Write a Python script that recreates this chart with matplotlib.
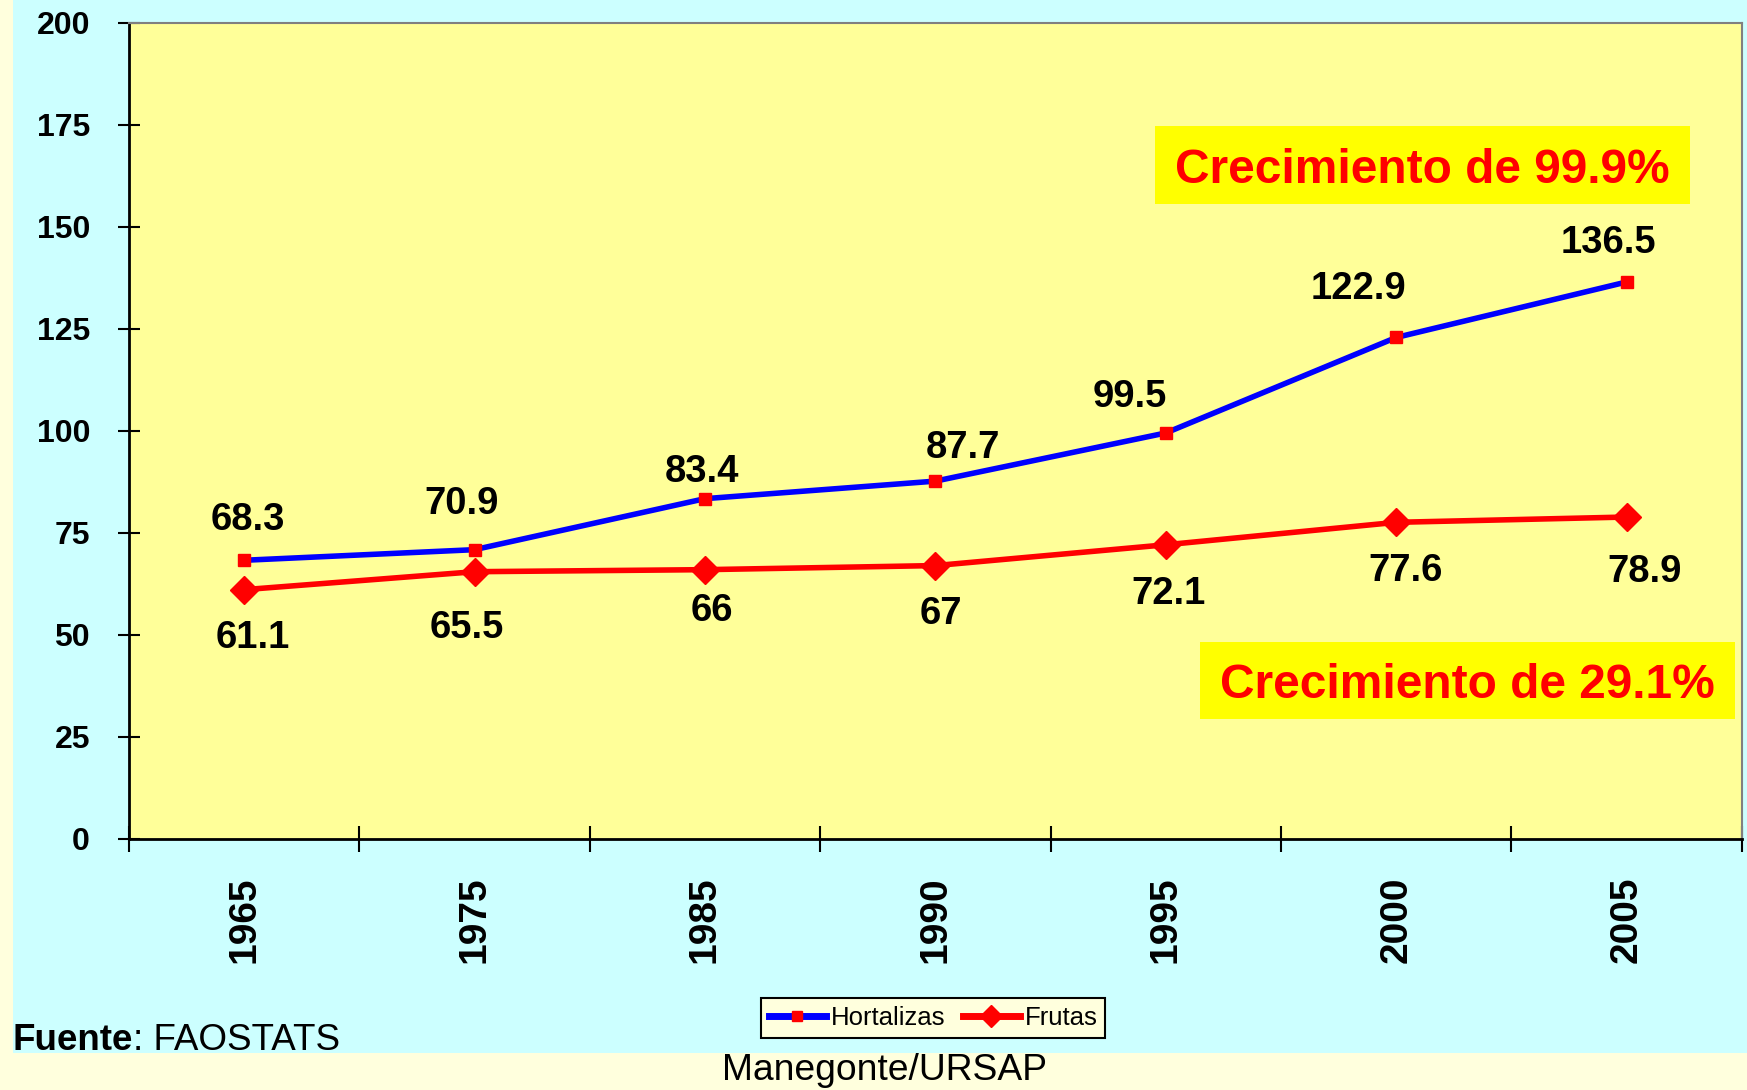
import numpy as np
import matplotlib.pyplot as plt
from matplotlib.patches import Rectangle

plt.rcParams['font.family'] = ['Liberation Sans', 'DejaVu Sans']

# datos (FAOSTATS)
anios = ['1965', '1975', '1985', '1990', '1995', '2000', '2005']
hortalizas = [68.3, 70.9, 83.4, 87.7, 99.5, 122.9, 136.5]
frutas = [61.1, 65.5, 66, 67, 72.1, 77.6, 78.9]
etiq_hort = ['68.3', '70.9', '83.4', '87.7', '99.5', '122.9', '136.5']
etiq_frut = ['61.1', '65.5', '66', '67', '72.1', '77.6', '78.9']

# desplazamiento de las etiquetas (pixeles)
off_hort = [(4, 40), (-13, 46), (-3, 27), (28, 33), (-36, 36), (-38, 48), (-18, 39)]
off_frut = [(9, -48), (-8, -56), (7, -41), (6, -48), (3, -49), (9, -49), (18, -55)]

fig = plt.figure(figsize=(17.47, 10.90), dpi=100)
fig.patch.set_facecolor('#FFFFDD')
fig.patches.append(Rectangle((0.0074, 0.034), 0.9926, 0.966, transform=fig.transFigure,
                             facecolor='#CCFFFF', edgecolor='none', zorder=-10))

ax = fig.add_axes([0.0738, 0.2303, 0.9232, 0.7487])
ax.set_facecolor('#FFFF99')

x = np.arange(len(anios))
ax.plot(x, hortalizas, color='#0000FF', lw=4, marker='s', ms=9,
        mfc='#FF0000', mec='#FF0000', label='Hortalizas', zorder=3)
ax.plot(x, frutas, color='#FF0000', lw=4, marker='D', ms=14,
        mfc='#FF0000', mec='#FF0000', label='Frutas', zorder=3)

for i in range(len(anios)):
    ax.annotate(etiq_hort[i], (x[i], hortalizas[i]), xytext=off_hort[i],
                textcoords='offset pixels', ha='center', va='center',
                fontsize=27.5, fontweight='bold')
    ax.annotate(etiq_frut[i], (x[i], frutas[i]), xytext=off_frut[i],
                textcoords='offset pixels', ha='center', va='center',
                fontsize=27.5, fontweight='bold')

ax.set_xlim(-0.5, len(anios) - 0.5)
ax.set_ylim(0, 200)
ax.set_yticks(np.arange(0, 201, 25))
ax.set_xticks(np.arange(len(anios) + 1) - 0.5)
ax.set_xticklabels([])
ax.set_xticks(x, minor=True)
ax.set_xticklabels(anios, minor=True, rotation=90, fontsize=28, fontweight='bold')
ax.tick_params(axis='x', which='major', direction='inout', length=19, width=1.5)
ax.tick_params(axis='x', which='minor', length=0, pad=27)
ax.tick_params(axis='y', direction='inout', length=16, width=1.5, pad=20)
for lab in ax.get_yticklabels():
    lab.set_fontsize(23)
    lab.set_fontweight('bold')

for s in ['left', 'bottom']:
    ax.spines[s].set_color('black')
    ax.spines[s].set_linewidth(2)
for s in ['top', 'right']:
    ax.spines[s].set_color('#808080')
    ax.spines[s].set_linewidth(1.5)

# cuadros de crecimiento
fig.patches.append(Rectangle((0.6611, 0.8128), 0.3062, 0.0716, transform=fig.transFigure,
                             facecolor='#FFFF00', edgecolor='none', zorder=2))
fig.text(0.814, 0.8436, 'Crecimiento de 99.9%', color='#FF0000', fontsize=34.5,
         fontweight='bold', ha='center', va='center', zorder=3)
fig.patches.append(Rectangle((0.6869, 0.3404), 0.3062, 0.0706, transform=fig.transFigure,
                             facecolor='#FFFF00', edgecolor='none', zorder=2))
fig.text(0.840, 0.3707, 'Crecimiento de 29.1%', color='#FF0000', fontsize=34.5,
         fontweight='bold', ha='center', va='center', zorder=3)

leg = fig.legend(loc='center', bbox_to_anchor=(0.5343, 0.066), ncol=2, fontsize=18.5,
                 frameon=True, fancybox=False, edgecolor='black', facecolor='#FFFFDD',
                 framealpha=1, handlelength=2.2, handletextpad=0.2, columnspacing=0.7,
                 borderpad=0.3, markerscale=0.8)
leg.get_frame().set_linewidth(1.5)
for ln in leg.get_lines():
    ln.set_linewidth(5)

fig.text(0.0074, 0.037, 'Fuente', fontsize=26.5, fontweight='bold', ha='left', va='baseline')
fig.text(0.0074 + 0.0685, 0.037, ': FAOSTATS', fontsize=26.5, ha='left', va='baseline')
fig.text(0.4135, 0.009, 'Manegonte/URSAP', fontsize=26.8, ha='left', va='baseline')

plt.savefig('out.png', dpi=100, facecolor=fig.get_facecolor())
